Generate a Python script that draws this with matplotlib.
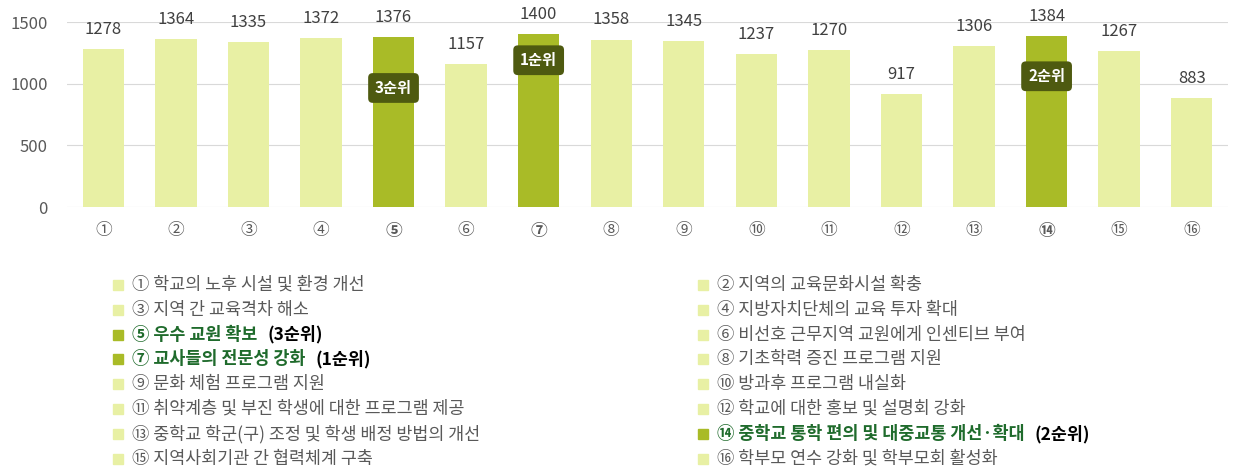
import matplotlib
matplotlib.use("Agg")
import matplotlib.pyplot as plt
from matplotlib.patches import Rectangle

plt.rcParams['font.family'] = ['Noto Sans CJK KR', 'DejaVu Sans']

# data
ticks = ['①', '②', '③', '④', '⑤', '⑥', '⑦', '⑧', '⑨', '⑩', '⑪', '⑫', '⑬', '⑭', '⑮', '⑯']
values = [1278, 1364, 1335, 1372, 1376, 1157, 1400, 1358, 1345, 1237, 1270, 917, 1306, 1384, 1267, 883]
items = ['학교의 노후 시설 및 환경 개선', '지역의 교육문화시설 확충', '지역 간 교육격차 해소',
         '지방자치단체의 교육 투자 확대', '우수 교원 확보', '비선호 근무지역 교원에게 인센티브 부여',
         '교사들의 전문성 강화', '기초학력 증진 프로그램 지원', '문화 체험 프로그램 지원',
         '방과후 프로그램 내실화', '취약계층 및 부진 학생에 대한 프로그램 제공', '학교에 대한 홍보 및 설명회 강화',
         '중학교 학군(구) 조정 및 학생 배정 방법의 개선', '중학교 통학 편의 및 대중교통 개선·확대',
         '지역사회기관 간 협력체계 구축', '학부모 연수 강화 및 학부모회 활성화']
ranks = {4: 3, 6: 1, 13: 2}          # index -> rank
badge_y = {4: 965, 6: 1190, 13: 1060}  # badge position in data units

light = '#E8F0A4'
dark = '#A9BB27'
badge = '#4E5A10'
green = '#1F6B2C'
gray = '#595959'

fig = plt.figure(figsize=(12.37, 4.72), dpi=100)
W, H = 1237, 472
ax = fig.add_axes([67 / W, 1 - 207 / H, (1228 - 67) / W, (207 - 22) / H])

x = list(range(len(values)))
colors = [dark if i in ranks else light for i in x]
ax.bar(x, values, width=0.57, color=colors, zorder=2)
for i, v in enumerate(values):
    ax.text(i, v + 90, str(v), ha='center', va='bottom', fontsize=12, color='#404040',
            fontweight='light')
for i, r in ranks.items():
    ax.text(i, badge_y[i], f'{r}순위', ha='center', va='center', fontsize=11, color='white',
            fontweight='bold', zorder=4,
            bbox=dict(boxstyle='round,pad=0.45,rounding_size=0.3', fc=badge, ec='none'))

ax.set_xlim(-0.5, len(values) - 0.5)
ax.set_ylim(0, 1500)
ax.set_yticks([0, 500, 1000, 1500])
ax.yaxis.grid(True, color='#D9D9D9', linewidth=0.8, zorder=0)
ax.set_xticks(x)
ax.set_xticklabels(ticks, fontsize=12)
for i, lab in enumerate(ax.get_xticklabels()):
    if i in ranks:
        lab.set_color(green)
        lab.set_fontweight('bold')
    else:
        lab.set_color(gray)
ax.tick_params(axis='both', length=0, labelsize=12, colors=gray)
ax.tick_params(axis='x', pad=11)
ax.tick_params(axis='y', pad=14)
for s in ax.spines.values():
    s.set_visible(False)

# legend, two columns
renderer = fig.canvas.get_renderer()
row0, dy = 285, 24.8
cols = [118, 703]
for i, name in enumerate(items):
    cx = cols[i % 2]
    cy = row0 + (i // 2) * dy
    hl = i in ranks
    fig.patches.append(Rectangle(((cx - 5) / W, 1 - (cy + 5) / H), 10 / W, 10 / H,
                                 transform=fig.transFigure, color=dark if hl else light))
    t = fig.text((cx + 14) / W, 1 - cy / H, f'{ticks[i]} {name}', va='center', ha='left',
                 fontsize=12.5, color=green if hl else gray, fontweight='bold' if hl else 'normal')
    if hl:
        bb = t.get_window_extent(renderer)
        fig.text((bb.x1 + 10) / W, 1 - cy / H, f'({ranks[i]}순위)', va='center', ha='left',
                 fontsize=12.5, color='black', fontweight='bold')

fig.savefig('out.png', dpi=100)
